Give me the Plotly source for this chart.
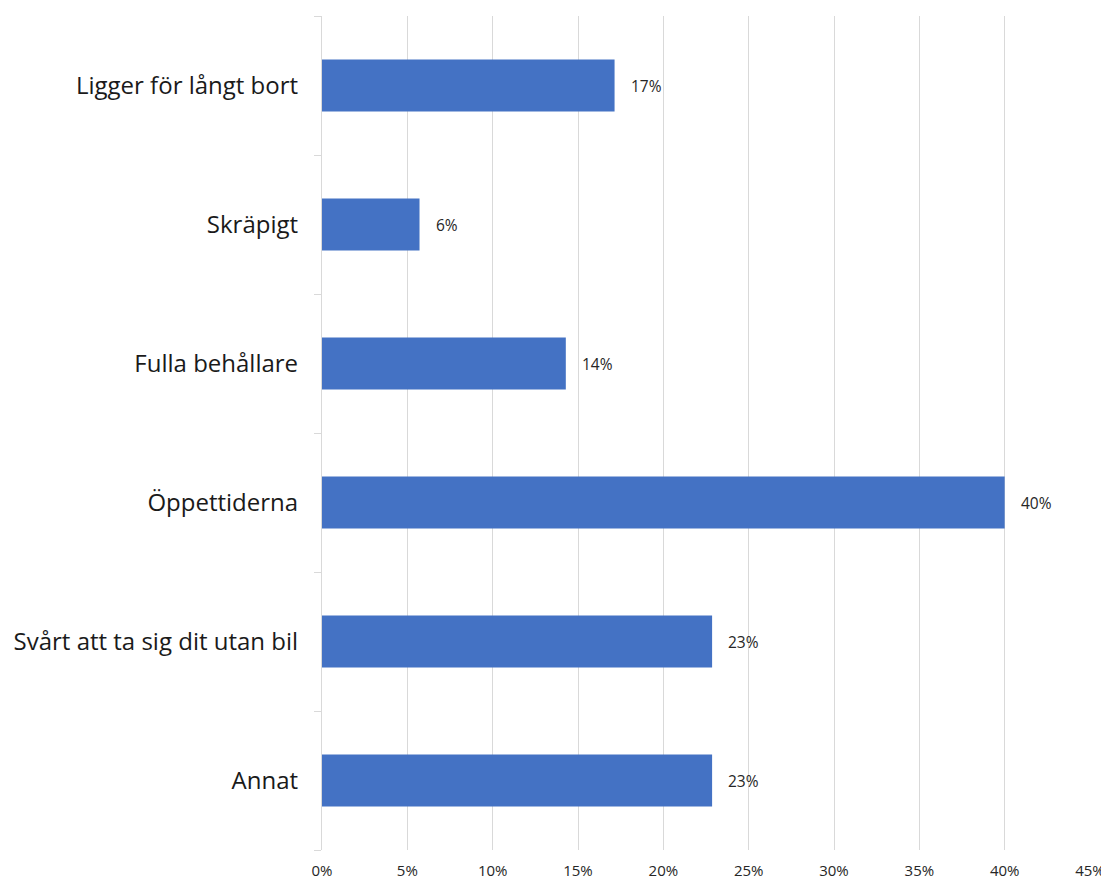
import plotly.graph_objects as go

categories = ["Ligger för långt bort", "Skräpigt", "Fulla behållare", "Öppettiderna",
              "Svårt att ta sig dit utan bil", "Annat"]
values = [6/35, 2/35, 5/35, 14/35, 8/35, 8/35]
x_ticks = [0, 0.05, 0.10, 0.15, 0.20, 0.25, 0.30, 0.35, 0.40, 0.45]
x_ticklabels = ["0%", "5%", "10%", "15%", "20%", "25%", "30%", "35%", "40%", "45%"]

fig = go.Figure()
fig.add_trace(go.Bar(
    y=categories, x=values, orientation="h",
    marker=dict(color="#4472C4", line=dict(width=0)),
    width=0.375,
    hoverinfo="skip",
))

for c, v in zip(categories, values):
    fig.add_annotation(x=v, y=c, text=f"{v*100:.0f}%", showarrow=False,
                       xanchor="left", xshift=14,
                       font=dict(family="Open Sans", size=15.5, color="#262626"))

fig.update_layout(
    width=1101, height=874,
    margin=dict(l=314, r=19, t=8, b=32, autoexpand=False),
    paper_bgcolor="white", plot_bgcolor="white",
    showlegend=False,
    font=dict(family="Open Sans", color="#262626"),
    xaxis=dict(range=[0, 0.45], tickvals=x_ticks, ticktext=x_ticklabels,
               showgrid=True, gridcolor="#d9d9d9", gridwidth=1.2,
               zeroline=False, showline=False, ticks="",
               ticklabelstandoff=10, automargin=False,
               tickfont=dict(family="Open Sans", size=15, color="#262626")),
    yaxis=dict(categoryorder="array", categoryarray=categories[::-1],
               range=[-0.5, 5.5], showline=True, linecolor="#d9d9d9", linewidth=1.2,
               ticks="outside", tickson="boundaries", ticklen=7, tickcolor="#d9d9d9",
               tickwidth=1.2, showgrid=False, zeroline=False,
               ticklabelstandoff=18, automargin=False,
               tickfont=dict(family="Open Sans", size=24, color="#1a1a1a")),
)

fig.write_html("out.html")
